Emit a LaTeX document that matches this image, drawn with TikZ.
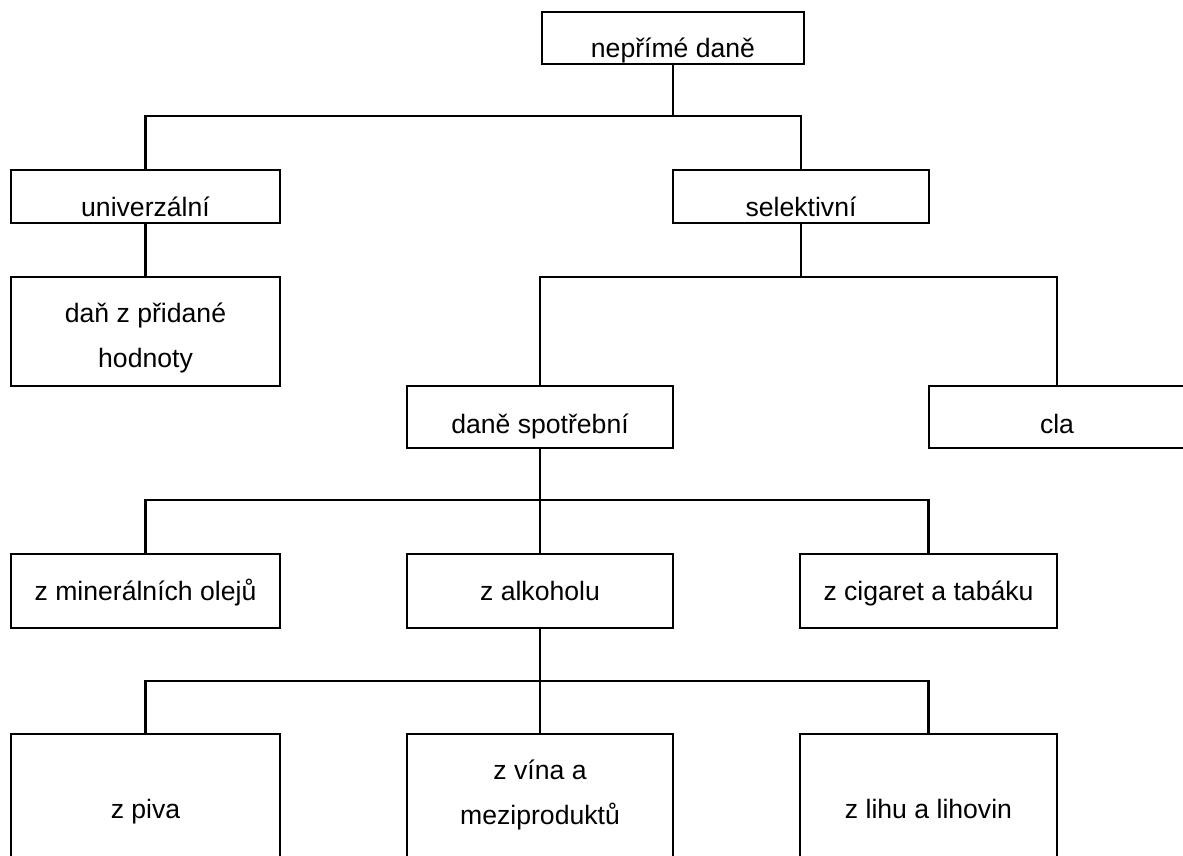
\documentclass[tikz,border=0pt]{standalone}
\usepackage{fontspec}
\setmainfont{Liberation Sans}
\begin{document}
\begin{tikzpicture}[x=0.5pt,y=-0.5pt,
  box/.style={draw=black, line width=1.1pt, rectangle, inner sep=0pt, fill=white},
  lbl/.style={inner sep=0pt, anchor=base, font=\fontsize{13.3pt}{22.5pt}\selectfont, align=center},
  conn/.style={draw=black, line width=1.1pt, line join=miter}]
\useasboundingbox (0,0) rectangle (1183,856);
\clip (0,0) rectangle (1183,856);
\fill[white] (0,0) rectangle (1183,856);
% boxes
\node[box, minimum width=131pt, minimum height=26pt] (nep) at (673,38) {};
\node[box, minimum width=134.5pt, minimum height=26.5pt] (uni) at (145.5,196.5) {};
\node[box, minimum width=128pt, minimum height=26.5pt] (sel) at (801,196.5) {};
\node[box, minimum width=134.5pt, minimum height=54.5pt] (dan) at (145.5,331.5) {};
\node[box, minimum width=133pt, minimum height=31pt] (spo) at (540,417) {};
\node[box, minimum width=128pt, minimum height=31pt] (cla) at (1057,417) {};
\node[box, minimum width=134.5pt, minimum height=37pt] (min) at (145.5,591) {};
\node[box, minimum width=133pt, minimum height=37pt] (alk) at (540,591) {};
\node[box, minimum width=128.5pt, minimum height=37pt] (cig) at (928.5,591) {};
\node[box, minimum width=134.5pt, minimum height=71pt] (piv) at (145.5,805) {};
\node[box, minimum width=133pt, minimum height=71pt] (vin) at (540,805) {};
\node[box, minimum width=128.5pt, minimum height=71pt] (lih) at (928.5,805) {};
% texts
\node[lbl] (tnep) at (673,58) {nepřímé daně};
\node[lbl] (tuni) at (145.5,216.5) {univerzální};
\node[lbl] (tsel) at (801,216.5) {selektivní};
\node[lbl] (tdan) at (145.5,367) {daň z přidané\\hodnoty};
\node[lbl] (tspo) at (540,433) {daně spotřební};
\node[lbl] (tcla) at (1057,433) {cla};
\node[lbl] (tmin) at (145.5,600) {z minerálních olejů};
\node[lbl] (talk) at (540,600) {z alkoholu};
\node[lbl] (tcig) at (928.5,600) {z cigaret a tabáku};
\node[lbl] (tpiv) at (145.5,818) {z piva};
\node[lbl] (tvin) at (540,824) {z vína a\\meziproduktů};
\node[lbl] (tlih) at (928.5,818) {z lihu a lihovin};
% junctions
\coordinate (j1) at (673,116);
\coordinate (j2) at (801,277);
\coordinate (j3) at (540,500);
\coordinate (j4) at (540,681);
% connectors
\draw[conn] (nep.south) -- (j1);
\draw[conn] (uni.north) |- (j1) -| (sel.north);
\draw[conn] (uni.south) -- (dan.north);
\draw[conn] (sel.south) -- (j2);
\draw[conn] (spo.north) |- (j2) -| (cla.north);
\draw[conn] (spo.south) -- (alk.north);
\draw[conn] (min.north) |- (j3) -| (cig.north);
\draw[conn] (alk.south) -- (vin.north);
\draw[conn] (piv.north) |- (j4) -| (lih.north);
\end{tikzpicture}
\end{document}
